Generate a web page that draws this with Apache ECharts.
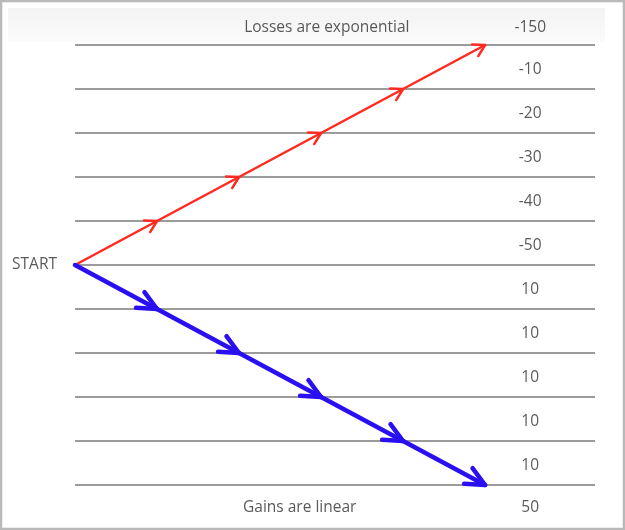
<!DOCTYPE html>
<html><head><meta charset="utf-8">
<script src="https://cdn.jsdelivr.net/npm/echarts@6/dist/echarts.min.js"></script>
<style>html,body{margin:0;padding:0;background:#fff}#c{width:625px;height:530px}</style>
</head><body><div id="c"></div>
<script>
// Data
const lossLabels = ['-150', '-10', '-20', '-30', '-40', '-50']; // top to middle
const gainLabels = ['10', '10', '10', '10', '10', '50'];        // middle to bottom
const lossLevels = [10.4, 9.45, 8.45, 7.45, 6.45, 5.45];
const gainLevels = [4.45, 3.45, 2.45, 1.45, 0.45, -0.52];
const redSteps = [0, 1, 2, 3, 4, 5];
const redLevels = [5, 6, 7, 8, 9, 10];
const blueSteps = [0, 1, 2, 3, 4, 5];
const blueLevels = [5, 4, 3, 2, 1, 0];
const titleTop = 'Losses are exponential';
const titleBottom = 'Gains are linear';
const startLabel = 'START';

const labelX = 5.55;
function segs(xs, ys) {
  const out = [];
  for (let i = 0; i < xs.length - 1; i++) out.push([xs[i], ys[i], xs[i + 1], ys[i + 1]]);
  return out;
}
function arrowSeries(data, color, width, headLen, angle) {
  return {
    type: 'custom', clip: false, silent: true,
    encode: { x: [0, 2], y: [1, 3] },
    data: data,
    renderItem: function (params, api) {
      const p0 = api.coord([api.value(0), api.value(1)]);
      const p1 = api.coord([api.value(2), api.value(3)]);
      const dx = p1[0] - p0[0], dy = p1[1] - p0[1];
      const len = Math.sqrt(dx * dx + dy * dy);
      const ux = dx / len, uy = dy / len;
      const a = angle * Math.PI / 180;
      const w1 = [p1[0] - headLen * (ux * Math.cos(a) - uy * Math.sin(a)), p1[1] - headLen * (ux * Math.sin(a) + uy * Math.cos(a))];
      const w2 = [p1[0] - headLen * (ux * Math.cos(-a) - uy * Math.sin(-a)), p1[1] - headLen * (ux * Math.sin(-a) + uy * Math.cos(-a))];
      return {
        type: 'group', children: [
          { type: 'polyline', shape: { points: [p0, p1] }, style: { stroke: color, lineWidth: width, fill: null, lineCap: 'round' } },
          { type: 'polyline', shape: { points: [w1, p1, w2] }, style: { stroke: color, lineWidth: width, fill: null, lineCap: 'round', lineJoin: 'round' } }
        ]
      };
    }
  };
}
function textData(xs, ys, texts) {
  return texts.map((t, i) => [xs[i], ys[i], t]);
}
const textStyle = { color: '#2f2f2f', fontSize: 15.5, fontFamily: '"Open Sans", sans-serif' };

const chart = echarts.init(document.getElementById('c'), null, { renderer: 'canvas' });
chart.setOption({
  animation: false,
  backgroundColor: '#ffffff',
  graphic: [
    { type: 'rect', shape: { x: 8, y: 8, width: 597, height: 34 }, style: { fill: new echarts.graphic.LinearGradient(0, 0, 0, 1, [{ offset: 0, color: '#f3f3f3' }, { offset: 1, color: '#fbfbfb' }]) }, z: -10 },
    { type: 'rect', shape: { x: 1, y: 1, width: 623, height: 528 }, style: { fill: null, stroke: '#b9b9b9', lineWidth: 2.5 }, z: 100 }
  ],
  grid: { left: 75, right: 30, top: 45, bottom: 45 },
  xAxis: { type: 'value', min: 0, max: 6.34, show: false },
  yAxis: {
    type: 'value', min: 0, max: 10, interval: 1,
    axisLine: { show: false }, axisTick: { show: false }, axisLabel: { show: false },
    splitLine: { show: true, lineStyle: { color: '#7a7a7a', width: 1.6 } }
  },
  series: [
    arrowSeries(segs(redSteps, redLevels), '#ff2a1f', 2.5, 13, 30),
    arrowSeries(segs(blueSteps, blueLevels), '#2a10f0', 4.5, 21, 25),
    {
      type: 'scatter', symbolSize: 0, clip: false, silent: true,
      data: textData(lossLevels.map(() => labelX), lossLevels, lossLabels)
        .concat(textData(gainLevels.map(() => labelX), gainLevels, gainLabels))
        .concat([[3.07, 10.4, titleTop], [2.74, -0.52, titleBottom]]),
      label: Object.assign({ show: true, position: 'inside', formatter: p => p.value[2] }, textStyle)
    },
    {
      type: 'scatter', symbolSize: 0, clip: false, silent: true,
      data: [[redSteps[0], redLevels[0], startLabel]],
      label: Object.assign({ show: true, position: 'left', distance: 18, formatter: p => p.value[2] }, textStyle)
    }
  ]
});
</script></body></html>
